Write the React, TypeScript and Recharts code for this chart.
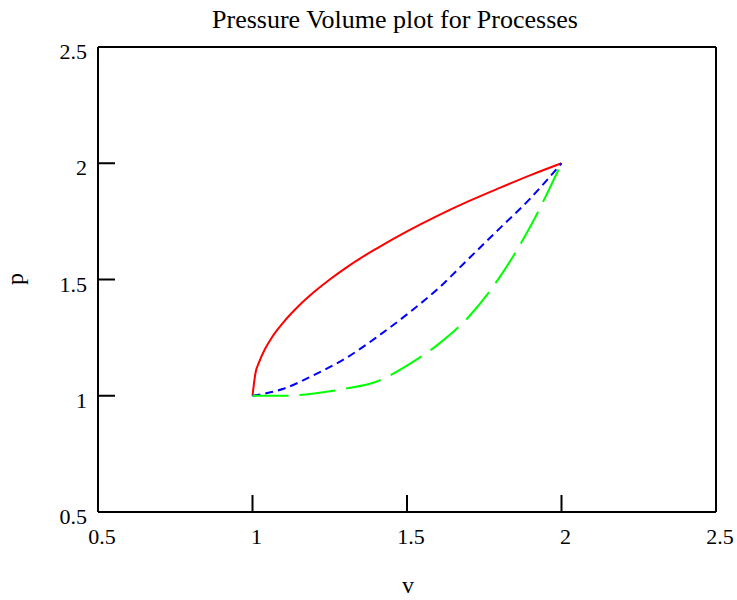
import React from 'react';
import { LineChart, Line, XAxis, YAxis } from 'recharts';

const ticks = [0.5, 1, 1.5, 2, 2.5];

const redV = [1, 1.01, 1.02, 1.04, 1.06, 1.08, 1.1, 1.15, 1.2, 1.25, 1.3, 1.35, 1.4, 1.5, 1.6, 1.7, 1.8, 1.9, 2.0];
const redP = [1, 1.1, 1.14, 1.2, 1.245, 1.283, 1.316, 1.387, 1.447, 1.5, 1.548, 1.592, 1.632, 1.707, 1.775, 1.837, 1.894, 1.949, 2.0];

const blueV = [1, 1.1, 1.2, 1.3, 1.4, 1.5, 1.6, 1.7, 1.8, 1.9, 2.0];
const blueP = [1, 1.03, 1.09, 1.16, 1.25, 1.35, 1.46, 1.59, 1.72, 1.85, 2.0];

const greenV = [1, 1.1, 1.2, 1.3, 1.4, 1.5, 1.6, 1.7, 1.8, 1.9, 2.0];
const greenP = [1, 1.0, 1.01, 1.03, 1.06, 1.13, 1.22, 1.34, 1.51, 1.73, 2.0];

const toData = (vs: number[], ps: number[]) => vs.map((v, i) => ({ v, p: ps[i] }));
const redData = toData(redV, redP);
const blueData = toData(blueV, blueP);
const greenData = toData(greenV, greenP);

const FONT = '"Liberation Serif", "Times New Roman", serif';
const axisLineStyle = { stroke: '#000', strokeWidth: 2 };
const tickLineStyle = { stroke: '#000', strokeWidth: 2 };
const blank = () => '';

const BottomTick = (props: any) => {
  const { x, y, payload } = props;
  return (
    <text x={x + 4} y={y} dy={16} textAnchor="middle" fontFamily={FONT} fontSize={22} fill="#000">
      {payload.value}
    </text>
  );
};

const LeftTick = (props: any) => {
  const { x, y, payload } = props;
  return (
    <text x={x} y={y} dy={12} textAnchor="end" fontFamily={FONT} fontSize={22} fill="#000">
      {payload.value}
    </text>
  );
};

export default function App() {
  return (
    <div style={{ position: 'absolute', left: 0, top: 0, width: 737, height: 600, background: '#fff' }}>
      <LineChart
        width={737}
        height={600}
        margin={{ top: 46, right: 20, bottom: 48, left: 58 }}
      >
        <XAxis
          xAxisId="b"
          type="number"
          dataKey="v"
          domain={[0.5, 2.5]}
          ticks={ticks}
          orientation="bottom"
          height={40}
          tickSize={-17}
          tickMargin={33}
          tick={BottomTick}
          axisLine={axisLineStyle}
          tickLine={tickLineStyle}
          interval={0}
        />
        <XAxis
          xAxisId="t"
          type="number"
          dataKey="v"
          domain={[0.5, 2.5]}
          ticks={ticks}
          orientation="top"
          height={1}
          tickSize={-17}
          tickFormatter={blank}
          axisLine={axisLineStyle}
          tickLine={tickLineStyle}
          interval={0}
        />
        <YAxis
          yAxisId="l"
          type="number"
          dataKey="p"
          domain={[0.5, 2.5]}
          ticks={ticks}
          orientation="left"
          width={40}
          tickSize={-17}
          tickMargin={28}
          tick={LeftTick}
          axisLine={axisLineStyle}
          tickLine={tickLineStyle}
          interval={0}
        />
        <YAxis
          yAxisId="r"
          type="number"
          dataKey="p"
          domain={[0.5, 2.5]}
          ticks={ticks}
          orientation="right"
          width={1}
          tickSize={-17}
          tickFormatter={blank}
          axisLine={axisLineStyle}
          tickLine={tickLineStyle}
          interval={0}
        />
        <Line
          xAxisId="b"
          yAxisId="l"
          data={redData}
          dataKey="p"
          type="monotone"
          stroke="#ff0000"
          strokeWidth={2}
          dot={false}
          isAnimationActive={false}
        />
        <Line
          xAxisId="b"
          yAxisId="l"
          data={blueData}
          dataKey="p"
          type="monotone"
          stroke="#0000ff"
          strokeWidth={2}
          strokeDasharray="8 5"
          dot={false}
          isAnimationActive={false}
        />
        <Line
          xAxisId="b"
          yAxisId="l"
          data={greenData}
          dataKey="p"
          type="monotone"
          stroke="#00ff00"
          strokeWidth={2}
          strokeDasharray="36 11"
          dot={false}
          isAnimationActive={false}
        />
      </LineChart>
      <svg width={737} height={600} style={{ position: 'absolute', left: 0, top: 0, pointerEvents: 'none' }}>
        <text x={395} y={28} textAnchor="middle" fontFamily={FONT} fontSize={26} fill="#000">
          Pressure Volume plot for Processes
        </text>
        <text x={408} y={593} textAnchor="middle" fontFamily={FONT} fontSize={24} fill="#000">
          v
        </text>
        <text x={23} y={279} transform="rotate(-90, 23, 279)" textAnchor="middle" fontFamily={FONT} fontSize={24} fill="#000">
          p
        </text>
      </svg>
    </div>
  );
}
